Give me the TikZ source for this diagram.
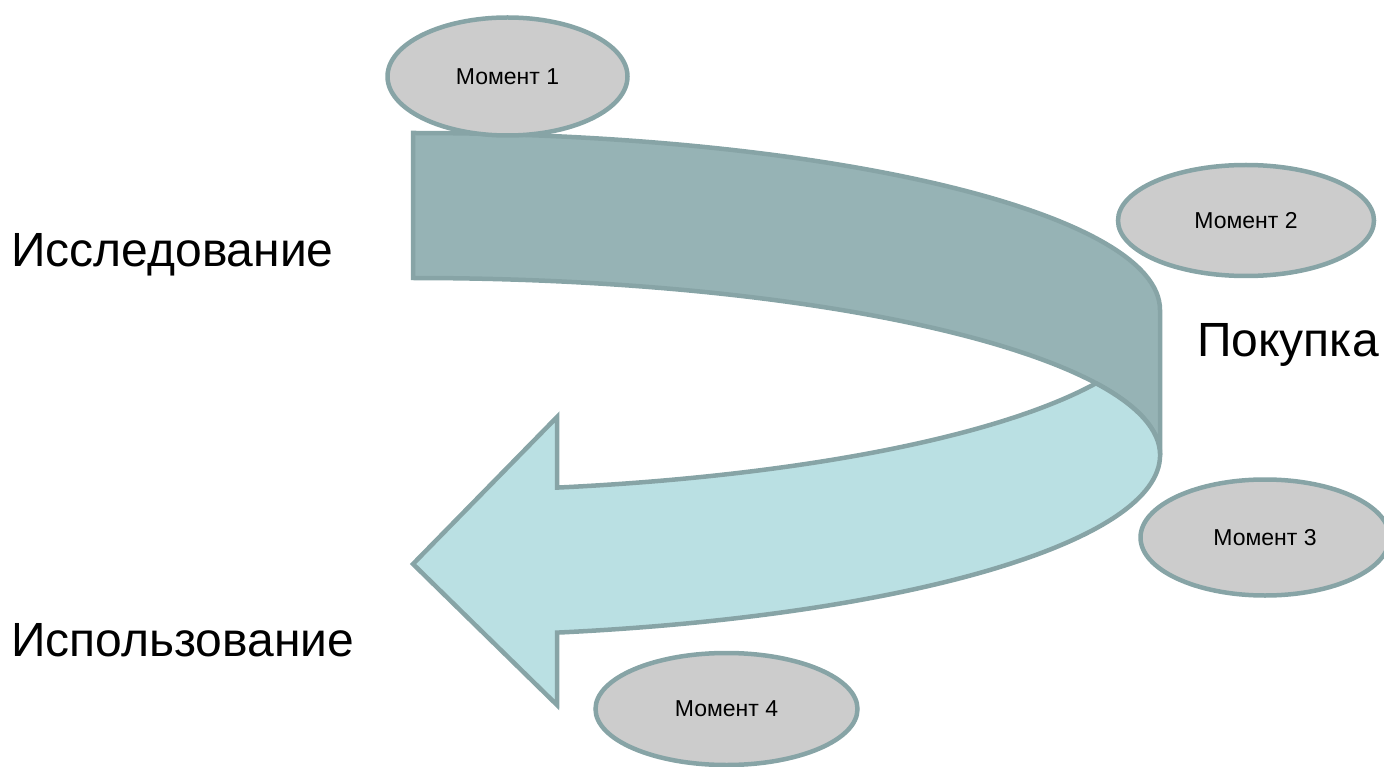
\documentclass[tikz,border=0pt]{standalone}
\usepackage{fontspec}
\setmainfont{Liberation Sans}
\usetikzlibrary{shapes.geometric}
\definecolor{edgec}{RGB}{135,164,166}
\definecolor{darkband}{RGB}{150,179,181}
\definecolor{lightband}{RGB}{186,224,227}
\definecolor{momfill}{RGB}{204,204,204}
\begin{document}
\begin{tikzpicture}[x=1pt,y=1pt,
  band/.style={draw=edgec,line width=4.5pt},
  moment/.style={ellipse,draw=edgec,fill=momfill,line width=4.5pt,inner sep=0pt,font=\fontsize{23}{27}\selectfont},
  stage/.style={anchor=base west,inner sep=0pt,font=\fontsize{48}{56}\selectfont}]
\useasboundingbox (0,0) rectangle (1384,-767);
% upper (dark) band
\path[band,fill=darkband] (413,-133) -- (413,-278)
  arc[start angle=90,end angle=0,x radius=747,y radius=177]
  -- (1160,-310)
  arc[start angle=0,end angle=90,x radius=747,y radius=177] -- cycle;
% lower (light) band with arrow head
\path[band,fill=lightband] (1096.0,-383.3)
  arc[start angle=23.9,end angle=0,x radius=747,y radius=177]
  arc[start angle=0,end angle=-78.88,x radius=747,y radius=181]
  -- (557,-705) -- (413,-564) -- (557,-417) -- (557,-487.6)
  arc[start angle=-78.88,end angle=-23.9,x radius=747,y radius=181] -- cycle;
% moments
\node[moment,minimum width=240pt,minimum height=118pt] (m1) at (507.5,-76.5) {Момент 1};
\node[moment,minimum width=256pt,minimum height=111pt] (m2) at (1246,-220.5) {Момент 2};
\node[moment,minimum width=249pt,minimum height=116pt] (m3) at (1265,-537.5) {Момент 3};
\node[moment,minimum width=262pt,minimum height=112pt] (m4) at (726.5,-709) {Момент 4};
% stages
\node[stage] (s1) at (11,-266.5) {Исследование};
\node[stage] (s2) at (1197,-356) {Покупка};
\node[stage] (s3) at (11,-656.5) {Использование};
\end{tikzpicture}
\end{document}
